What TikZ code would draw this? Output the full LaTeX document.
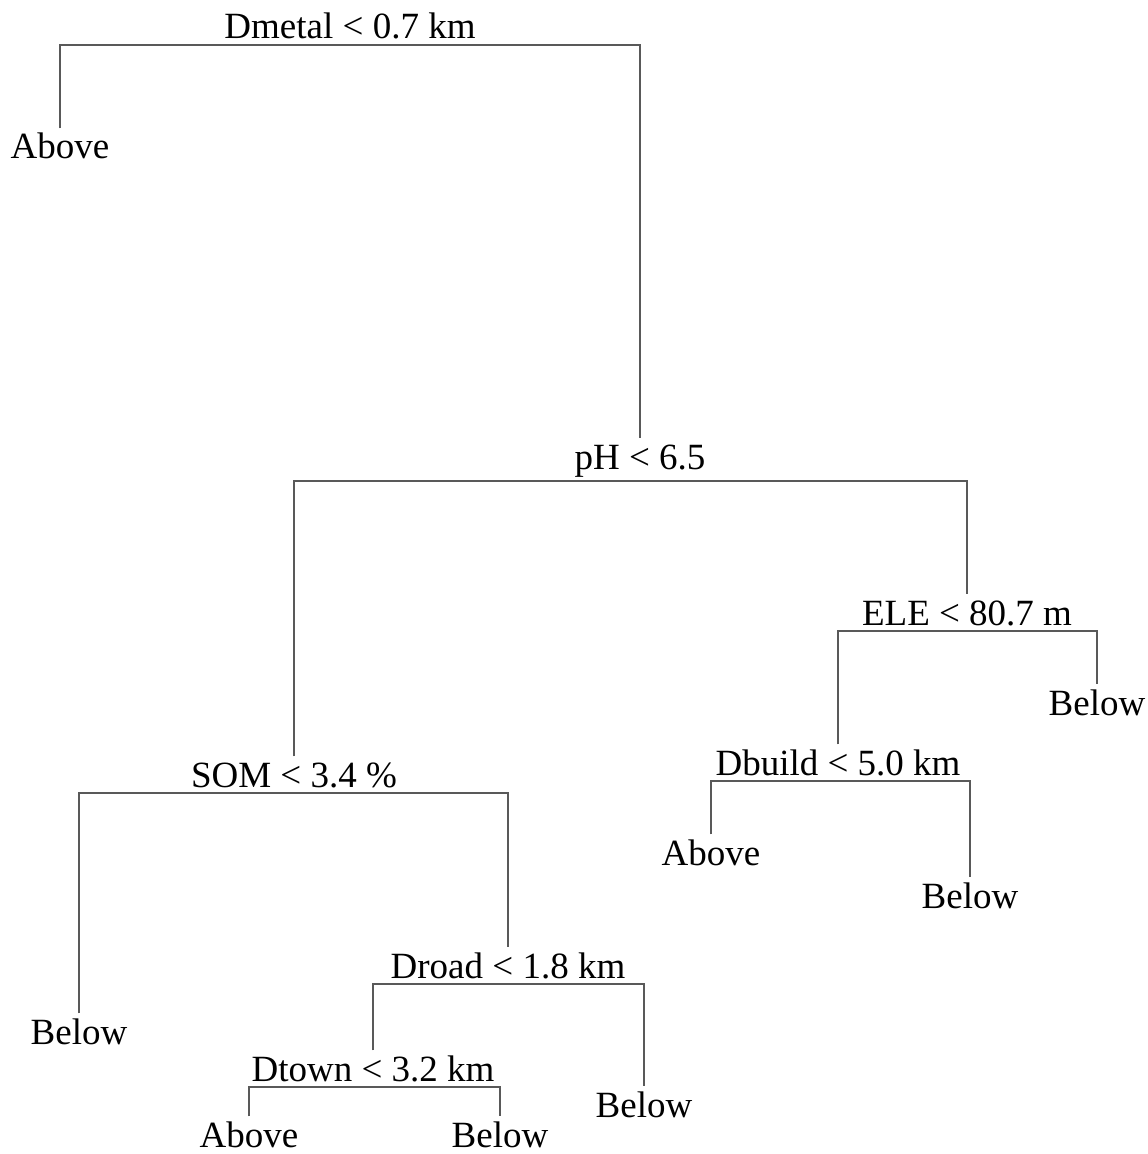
\documentclass[tikz,border=0pt]{standalone}
\usepackage{fontspec}
\setmainfont{Liberation Serif}
\usepackage{tikz}

\begin{document}
\begin{tikzpicture}[x=0.5pt,y=-0.5pt,
    every node/.style={anchor=base,inner sep=0pt,outer xsep=0pt,outer ysep=1.5pt,
      text height=13.8pt,text depth=1.5pt,font=\fontsize{18.5}{20}\selectfont},
    branch/.style={draw=black!65,line width=0.9pt}]
    \useasboundingbox (0,0) rectangle (1147,1154);
    \node (Dm) at (350,39) {Dmetal < 0.7 km};
    \node (A1) at (60,159) {Above};
    \node[text depth=4.5pt] (pH) at (640,469) {pH < 6.5};
    \node (SOM) at (294,787) {SOM < 3.4 \%};
    \node (ELE) at (967,625) {ELE < 80.7 m};
    \node (B1) at (1097,715) {Below};
    \node (Db) at (838,775) {Dbuild < 5.0 km};
    \node (A2) at (711,865) {Above};
    \node (B2) at (970,908) {Below};
    \node (B3) at (79,1044) {Below};
    \node (Dr) at (508,978) {Droad < 1.8 km};
    \node (B4) at (644,1117) {Below};
    \node (Dt) at (373,1081) {Dtown < 3.2 km};
    \node (A3) at (249,1147) {Above};
    \node (B5) at (500,1147) {Below};
    \draw[branch] (A1.north) |- (Dm.south) -| (pH.north);
    \draw[branch] (SOM.north) |- (pH.south) -| (ELE.north);
    \draw[branch] (Db.north) |- (ELE.south) -| (B1.north);
    \draw[branch] (A2.north) |- (Db.south) -| (B2.north);
    \draw[branch] (B3.north) |- (SOM.south) -| (Dr.north);
    \draw[branch] (Dt.north) |- (Dr.south) -| (B4.north);
    \draw[branch] (A3.north) |- (Dt.south) -| (B5.north);
\end{tikzpicture}
\end{document}
